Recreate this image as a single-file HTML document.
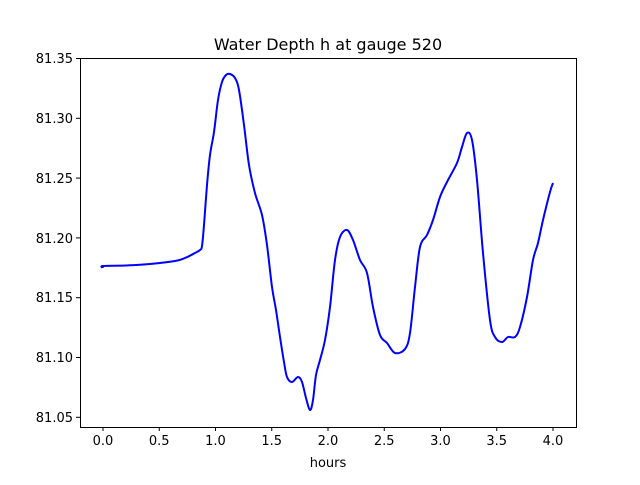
<!DOCTYPE html>
<html><head><meta charset="utf-8"><style>
body{margin:0;background:#fff}
text{font-family:"DejaVu Sans","Liberation Sans",sans-serif;font-size:13px;fill:#000}
</style></head><body>
<svg width="640" height="480" xmlns="http://www.w3.org/2000/svg">
<rect width="640" height="480" fill="#fff"/>
<text x="328" y="50" text-anchor="middle" style="font-size:16px">Water Depth h at gauge 520</text>
<path id="curve" fill="none" stroke="#0000ff" stroke-width="2" stroke-linejoin="round" d=""/>
<rect x="80.5" y="58.5" width="496" height="369" fill="none" stroke="#000" stroke-width="1"/>
<g stroke="#000" stroke-width="1">
<line x1="103" y1="427" x2="103" y2="431"/><line x1="159.25" y1="427" x2="159.25" y2="431"/><line x1="215.5" y1="427" x2="215.5" y2="431"/><line x1="271.75" y1="427" x2="271.75" y2="431"/><line x1="328" y1="427" x2="328" y2="431"/><line x1="384.25" y1="427" x2="384.25" y2="431"/><line x1="440.5" y1="427" x2="440.5" y2="431"/><line x1="496.75" y1="427" x2="496.75" y2="431"/><line x1="553" y1="427" x2="553" y2="431"/>
<line x1="76" y1="58.5" x2="80" y2="58.5"/><line x1="76" y1="118.3" x2="80" y2="118.3"/><line x1="76" y1="178.1" x2="80" y2="178.1"/><line x1="76" y1="237.9" x2="80" y2="237.9"/><line x1="76" y1="297.7" x2="80" y2="297.7"/><line x1="76" y1="357.5" x2="80" y2="357.5"/><line x1="76" y1="417.3" x2="80" y2="417.3"/>
</g>
<g text-anchor="middle">
<text x="103" y="445">0.0</text><text x="159.25" y="445">0.5</text><text x="215.5" y="445">1.0</text><text x="271.75" y="445">1.5</text><text x="328" y="445">2.0</text><text x="384.25" y="445">2.5</text><text x="440.5" y="445">3.0</text><text x="496.75" y="445">3.5</text><text x="553" y="445">4.0</text>
<text x="328" y="467">hours</text>
</g>
<g text-anchor="end">
<text x="73" y="63">81.35</text><text x="73" y="123">81.30</text><text x="73" y="183">81.25</text><text x="73" y="243">81.20</text><text x="73" y="302">81.15</text><text x="73" y="362">81.10</text><text x="73" y="422">81.05</text>
</g>
</svg>
<script>
var p=[[103,268],[103,266],[125,265.5],[150,264],[175,261],[185,258],[195,253],[200,250],[202,246],[204,225],[207,185],[210,155],[214,132],[218,100],[222,82],[226,75],[230,74],[235,78],[239,90],[244,125],[249,165],[255,193],[262,215],[267,245],[272,287],[276,310],[280,337],[284,362],[287,377],[292,382],[298,377],[302,382],[306,398],[310,410],[313,400],[316,375],[320,360],[325,340],[330,307],[335,260],[340,237],[347,230],[353,240],[360,260],[367,273],[373,307],[380,335],[387,343],[395,353],[405,349],[410,333],[415,287],[420,247],[427,235],[433,220],[440,197],[447,182],[457,163],[462,147],[467,133],[472,140],[477,180],[483,253],[490,320],[495,337],[502,342],[508,337],[515,337],[520,327],[527,297],[533,260],[538,243],[543,220],[550,192],[553,183]];
var d="M"+p[0][0]+","+p[0][1];
for(var i=0;i<p.length-1;i++){var a=p[i-1]||p[i],b=p[i],c=p[i+1],e=p[i+2]||c;
d+=" C"+(b[0]+(c[0]-a[0])/6)+","+(b[1]+(c[1]-a[1])/6)+" "+(c[0]-(e[0]-b[0])/6)+","+(c[1]-(e[1]-b[1])/6)+" "+c[0]+","+c[1];}
document.getElementById("curve").setAttribute("d",d);
</script>
</body></html>
